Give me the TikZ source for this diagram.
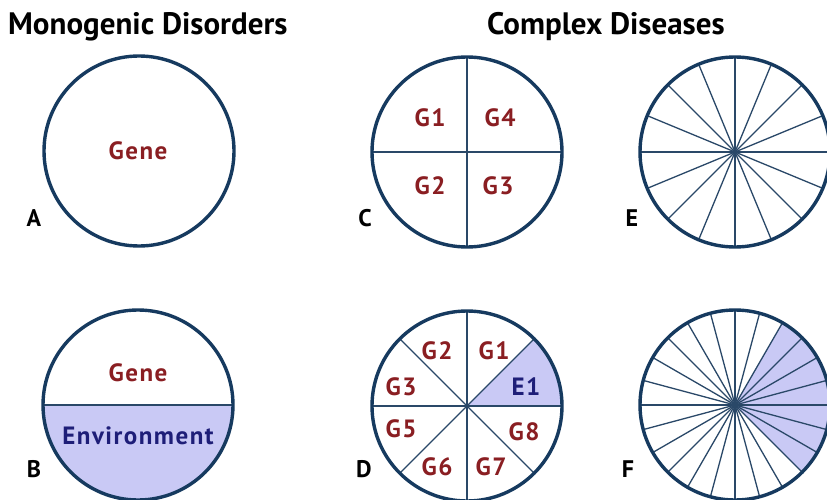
\documentclass[tikz,border=0pt]{standalone}
\usepackage{fontspec}
\setmainfont{PT Sans}
\newfontfamily\labelfont[LetterSpace=6]{PT Sans}
\definecolor{rimblue}{HTML}{163A5F}
\definecolor{spokeblue}{HTML}{2A4868}
\definecolor{genered}{HTML}{8A1E22}
\definecolor{envblue}{HTML}{1E1E78}
\definecolor{envfill}{HTML}{C9C9F5}
\tikzset{
  rim/.style={draw=rimblue, line width=3.4pt},
  spoke/.style={draw=spokeblue, line width=1.3pt},
  shade/.style={fill=envfill},
  title/.style={font=\bfseries\fontsize{31}{34}\selectfont, text=black, anchor=base west, inner sep=0pt},
  panel/.style={font=\bfseries\fontsize{24}{26}\selectfont, text=black, inner sep=0pt},
  glabel/.style={font=\labelfont\bfseries\fontsize{25}{27}\selectfont, text=genered, inner sep=0pt},
  elabel/.style={font=\labelfont\bfseries\fontsize{25}{27}\selectfont, text=envblue, inner sep=0pt},
}
\begin{document}
\begin{tikzpicture}[x=1pt,y=1pt]
\useasboundingbox (0,0) rectangle (827,499);
\fill[white] (0,0) rectangle (827,499);
\def\R{95}

% circle centres
\coordinate (A) at (139,348);
\coordinate (B) at (138,94);
\coordinate (C) at (467,347);
\coordinate (D) at (467,93);
\coordinate (E) at (735,347);
\coordinate (F) at (735,94);

% headings
\node[title] (tmono) at (8,464) {Monogenic Disorders};
\node[title] (tcomplex) at (487,464) {Complex Diseases};

% A: a single gene
\draw[rim] (A) circle (\R);
\node[glabel] (agene) at (138,348) {Gene};

% B: gene plus environment
\fill[shade] ([shift={(180:\R)}]B) arc (180:360:\R) -- cycle;
\draw[spoke] ([shift={(180:\R)}]B) -- ([shift={(0:\R)}]B);
\draw[rim] (B) circle (\R);
\node[glabel] (bgene) at (138,126) {Gene};
\node[elabel] (benv) at (138,63) {Environment};

% C: four genes
\foreach \a in {0,90}
  \draw[spoke] ([shift={(\a:\R)}]C) -- ([shift={(\a+180:\R)}]C);
\draw[rim] (C) circle (\R);
\node[glabel] (cg1) at (430,381) {G1};
\node[glabel] (cg4) at (500,381) {G4};
\node[glabel] (cg2) at (430,313) {G2};
\node[glabel] (cg3) at (498,313) {G3};

% D: seven genes and one environmental factor
\fill[shade] (D) -- ([shift={(0:\R)}]D) arc (0:45:\R) -- cycle;
\foreach \a in {0,45,90,135}
  \draw[spoke] ([shift={(\a:\R)}]D) -- ([shift={(\a+180:\R)}]D);
\draw[rim] (D) circle (\R);
\node[glabel] (dg2) at (437,148) {G2};
\node[glabel] (dg1) at (494,148) {G1};
\node[glabel] (dg3) at (401,112) {G3};
\node[elabel] (de1) at (526,112) {E1};
\node[glabel] (dg5) at (401,70) {G5};
\node[glabel] (dg8) at (524,67) {G8};
\node[glabel] (dg6) at (437,32) {G6};
\node[glabel] (dg7) at (491,32) {G7};

% E: many genes
\foreach \a in {0,22.5,...,157.5}
  \draw[spoke] ([shift={(\a:\R)}]E) -- ([shift={(\a+180:\R)}]E);
\draw[rim] (E) circle (\R);

% F: many genes with an environmental share
\fill[shade] (F) -- ([shift={(-45:\R)}]F) arc (-45:60:\R) -- cycle;
\foreach \a in {0,15,...,165}
  \draw[spoke] ([shift={(\a:\R)}]F) -- ([shift={(\a+180:\R)}]F);
\draw[rim] (F) circle (\R);

% panel letters
\node[panel] (la) at (34,281) {A};
\node[panel] (lb) at (34,30) {B};
\node[panel] (lc) at (365,281) {C};
\node[panel] (ld) at (364,30) {D};
\node[panel] (le) at (632,281) {E};
\node[panel] (lf) at (628,30) {F};
\end{tikzpicture}
\end{document}
